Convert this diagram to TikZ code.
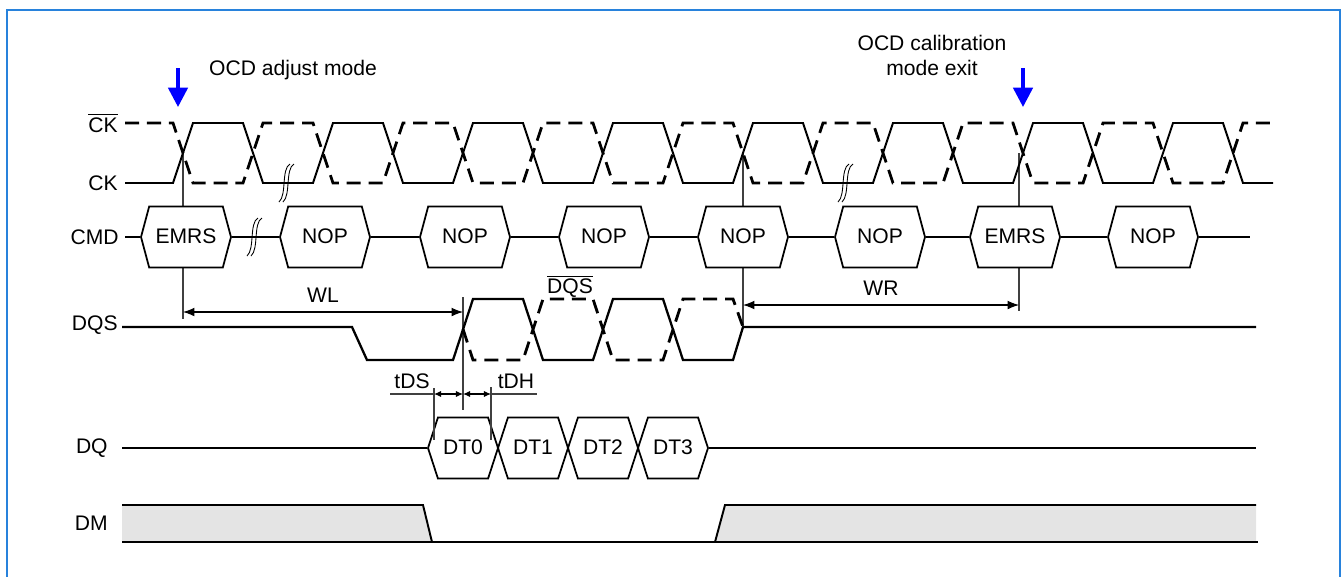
\documentclass[tikz,border=0pt]{standalone}
\usepackage{fontspec}
\setmainfont{Liberation Sans}
\usetikzlibrary{arrows.meta,shapes.symbols}

\definecolor{frameblue}{RGB}{40,130,220}
\definecolor{maskgray}{RGB}{228,228,228}

\tikzset{
  sig/.style={line width=1.1pt},
  sigbar/.style={line width=1.6pt, dash pattern=on 8pt off 4.5pt},
  bus/.style={line width=0.9pt},
  level/.style={line width=1.3pt},
  guide/.style={line width=0.6pt, black!75},
  cmdbox/.style={signal, signal to=east and west, signal pointer angle=150,
    draw, line width=1pt, fill=white, minimum width=1.8cm,
    minimum height=1.22cm, inner sep=0pt, text height=0.72em, text depth=0.02em},
  databox/.style={cmdbox, signal pointer angle=144, minimum width=1.4cm},
  lbl/.style={anchor=east, inner sep=0pt},
  span/.style={line width=0.6pt, {Latex[length=6.5pt,width=5pt]}-{Latex[length=6.5pt,width=5pt]}},
  tick/.style={line width=0.6pt, {Latex[length=4pt,width=3.5pt]}-{Latex[length=4pt,width=3.5pt]}},
  modearrow/.style={blue, line width=2pt, -{Triangle[width=11pt,length=11pt]}},
  brk/.pic={
    \draw[line width=0.5pt] (-7,19) .. controls (1,12) and (-5,-14) .. (4,-19);
    \draw[line width=0.5pt] (-3,19) .. controls (5,12) and (-1,-14) .. (8,-19);
  }
}

\begin{document}
\begin{tikzpicture}[x=0.02cm, y=-0.02cm, font=\fontsize{12}{14.2}\selectfont]
  \useasboundingbox (0,0) rectangle (1341,576);
  \draw[frameblue, line width=0.9pt] (7,10) rectangle (1340,600);

  % mode markers
  \draw[modearrow] (178,68) -- (178,107);
  \draw[modearrow] (1023,68) -- (1023,107);
  \node[anchor=west] (adj) at (203,70) {OCD adjust mode};
  \node[align=center] (cal) at (932,55) {OCD calibration\\mode exit};

  % signal names
  \node[lbl] (ckbar) at (118,123) {$\overline{\mbox{CK}}$};
  \node[lbl] (ck) at (118,183) {CK};
  \node[lbl] (cmd) at (119,237) {CMD};
  \node[lbl] (dqs) at (118,325) {DQS};
  \node[lbl] (dq) at (108,448) {DQ};
  \node[lbl] (dm) at (108,523) {DM};

  % reference lines (behind the boxes)
  \draw[guide] (183,153) -- (183,319);
  \draw[guide] (743,153) -- (743,327);
  \draw[guide] (1019,153) -- (1019,311);
  \draw[guide] (463,297) -- (463,410);

  % clock
  \draw[sig] (125,183) foreach \c in {183,323,...,1163} {
    -- (\c-10,183) -- (\c+10,123) -- (\c+60,123) -- (\c+80,183) } -- (1273,183);
  \draw[sigbar] (125,123) foreach \c in {183,323,...,1163} {
    -- (\c-10,123) -- (\c+10,183) -- (\c+60,183) -- (\c+80,123) } -- (1273,123);
  \pic at (286,183) {brk};
  \pic at (845,183) {brk};

  % command bus
  \foreach \x/\t/\n in {186/EMRS/c0, 325/NOP/c1, 465/NOP/c2, 604/NOP/c3,
                        743/NOP/c4, 880/NOP/c5, 1015/EMRS/c6, 1153/NOP/c7}
    \node[cmdbox] (\n) at (\x,237) {\t};
  \draw[bus] (125,237) -- (c0.west);
  \foreach \a/\b in {c0/c1, c1/c2, c2/c3, c3/c4, c4/c5, c5/c6, c6/c7}
    \draw[bus] (\a.east) -- (\b.west);
  \draw[bus] (c7.east) -- (1250,237);
  \pic at (254,237) {brk};

  % WL / WR
  \draw[span] (183,312) -- node[above=2pt] (wl) {WL} (463,312);
  \draw[span] (743,305) -- node[above=2pt] (wr) {WR} (1019,305);

  % DQS
  \draw[level] (122,327) -- (352,327) -- (367,360) -- (453,360) -- (473,299)
    -- (523,299) -- (543,360) -- (593,360) -- (613,299) -- (663,299)
    -- (683,360) -- (733,360) -- (743,327) -- (1256,327);
  \draw[sigbar] (463,329) -- (473,360) -- (523,360) -- (543,299) -- (593,299)
    -- (613,360) -- (663,360) -- (683,299) -- (733,299) -- (743,327);
  \node (dqsbar) at (570,286) {$\overline{\mbox{DQS}}$};

  % tDS / tDH
  \draw[guide] (434,388) -- (434,440);
  \draw[guide] (491,387) -- (491,440);
  \draw[guide] (390,394) -- (434,394);
  \draw[guide] (491,394) -- (537,394);
  \draw[tick] (434,394) -- (463,394);
  \draw[tick] (463,394) -- (491,394);
  \node (tds) at (412,381) {tDS};
  \node (tdh) at (516,381) {tDH};

  % DQ
  \foreach \x/\t/\n in {463/DT0/d0, 533/DT1/d1, 603/DT2/d2, 673/DT3/d3}
    \node[databox] (\n) at (\x,448) {\t};
  \draw[level] (122,448) -- (d0.west);
  \draw[level] (d3.east) -- (1256,448);
  \draw[guide] (434,418) -- (434,440);
  \draw[guide] (491,418) -- (491,440);

  % DM
  \fill[maskgray] (122,505) -- (423,505) -- (432,542) -- (122,542) -- cycle;
  \fill[maskgray] (715,542) -- (725,505) -- (1256,505) -- (1256,542) -- cycle;
  \draw[sig] (122,505) -- (423,505) -- (432,542);
  \draw[sig] (715,542) -- (725,505) -- (1256,505);
  \draw[level] (122,542) -- (1258,542);
\end{tikzpicture}
\end{document}
